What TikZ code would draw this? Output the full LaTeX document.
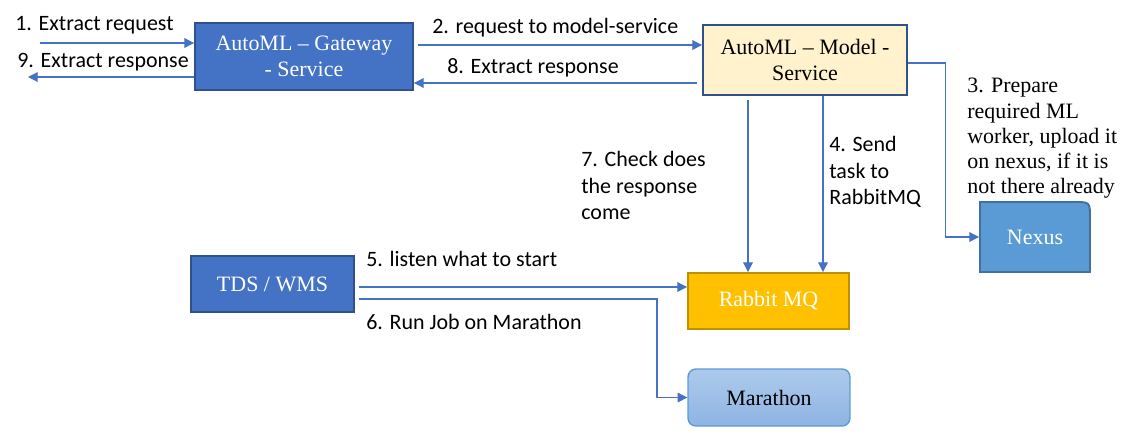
\documentclass[tikz,border=0pt]{standalone}
\usepackage{fontspec}
\setmainfont{Liberation Serif}
\newfontfamily\lblfont{Carlito}
\usepackage{tikz}
\usetikzlibrary{arrows.meta}
\definecolor{gwblue}{HTML}{4472C4}
\definecolor{gwedge}{HTML}{2F528F}
\definecolor{modelfill}{HTML}{FFF2CC}
\definecolor{nexusblue}{HTML}{5B9BD5}
\definecolor{nexusedge}{HTML}{41719C}
\definecolor{rabbitfill}{HTML}{FFC000}
\definecolor{rabbitedge}{HTML}{BF9000}
\definecolor{marathontop}{HTML}{ADCAEC}
\definecolor{marathonbot}{HTML}{8EB4E3}

\begin{document}
\begin{tikzpicture}[x=0.02cm,y=-0.02cm,
    box/.style={draw=gwedge,line width=1.1pt,align=center,inner sep=0pt,
      font=\fontsize{12.5}{14.7}\selectfont},
    darkbox/.style={box,fill=gwblue,text=white},
    flow/.style={draw=gwblue,line width=0.6pt,-{Triangle[length=5.5pt,width=5.5pt]}},
    lbl/.style={inner sep=0pt,align=left,font=\lblfont\fontsize{12.5}{15.1}\selectfont}]
  \useasboundingbox (0,0) rectangle (1142,444);
  \node[darkbox,minimum width=4.36cm,minimum height=1.34cm] (gateway) at (304,56.5)
    {AutoML -- Gateway\\- Service};
  \node[box,fill=modelfill,minimum width=4.08cm,minimum height=1.4cm] (model) at (805,60)
    {AutoML -- Model -\\Service};
  \filldraw[fill=nexusblue,draw=nexusedge,line width=1.1pt]
    (980,272) -- (980,202) -- (1074,202) .. controls (1090,202) .. (1090,218) -- (1090,272) -- cycle;
  \node[box,draw=none,text=white,minimum width=2.2cm,minimum height=1.4cm] (nexus) at (1035,237) {Nexus};
  \node[darkbox,minimum width=3.26cm,minimum height=1.12cm] (tds) at (272.5,284) {TDS / WMS};
  \node[box,fill=rabbitfill,draw=rabbitedge,text=white,minimum width=3.22cm,minimum height=1.12cm]
    (rabbit) at (768.5,301) {Rabbit MQ};
  \node[box,draw=nexusblue,line width=0.8pt,rounded corners=4.5pt,top color=marathontop,
    bottom color=marathonbot,minimum width=3.24cm,minimum height=1.14cm] (marathon) at (769,397.5) {Marathon};

  \coordinate (in1) at (40,43);
  \coordinate (out9) at (28,77);
  \coordinate (req2) at (418,45);
  \coordinate (resp8) at (697,83);
  \coordinate (chk7) at (748,100);
  \coordinate (send4) at (823,95);
  \coordinate (lsn5) at (359,287);
  \coordinate (run6) at (359,299);

  \draw[flow] (in1) -- (in1 -| gateway.west);
  \draw[flow] (out9 -| gateway.west) -- (out9);
  \draw[flow] (req2) -- (req2 -| model.west);
  \draw[flow] (resp8) -- (resp8 -| gateway.east);
  \draw[flow] (model.east) ++(0,3) -- ++(38,0) |- (nexus.west);
  \draw[flow] (chk7) -- (chk7 |- rabbit.north);
  \draw[flow] (send4 |- model.south) -- (send4 |- rabbit.north);
  \draw[flow] (lsn5) -- (lsn5 -| rabbit.west);
  \draw[flow] (run6) -- ++(298,0) |- (marathon.west);

  \node[lbl,anchor=base west] (l1) at (15,30) {1. Extract request};
  \node[lbl,anchor=base west] (l9) at (17,67) {9. Extract response};
  \node[lbl,anchor=base west] (l2) at (432,33) {2. request to model-service};
  \node[lbl,anchor=base west] (l8) at (447,73) {8. Extract response};
  \node[lbl,anchor=north west,font=\fontsize{12.5}{14.3}\selectfont] (l3) at (967,78)
    {3. Prepare\\required ML\\worker, upload it\\on nexus, if it is\\not there already};
  \node[lbl,anchor=north west] (l7) at (581,151) {7. Check does\\the response\\come};
  \node[lbl,anchor=north west] (l4) at (829,136) {4. Send\\task to\\RabbitMQ};
  \node[lbl,anchor=base west] (l5) at (366,266) {5. listen what to start};
  \node[lbl,anchor=base west] (l6) at (366,329) {6. Run Job on Marathon};
\end{tikzpicture}
\end{document}
